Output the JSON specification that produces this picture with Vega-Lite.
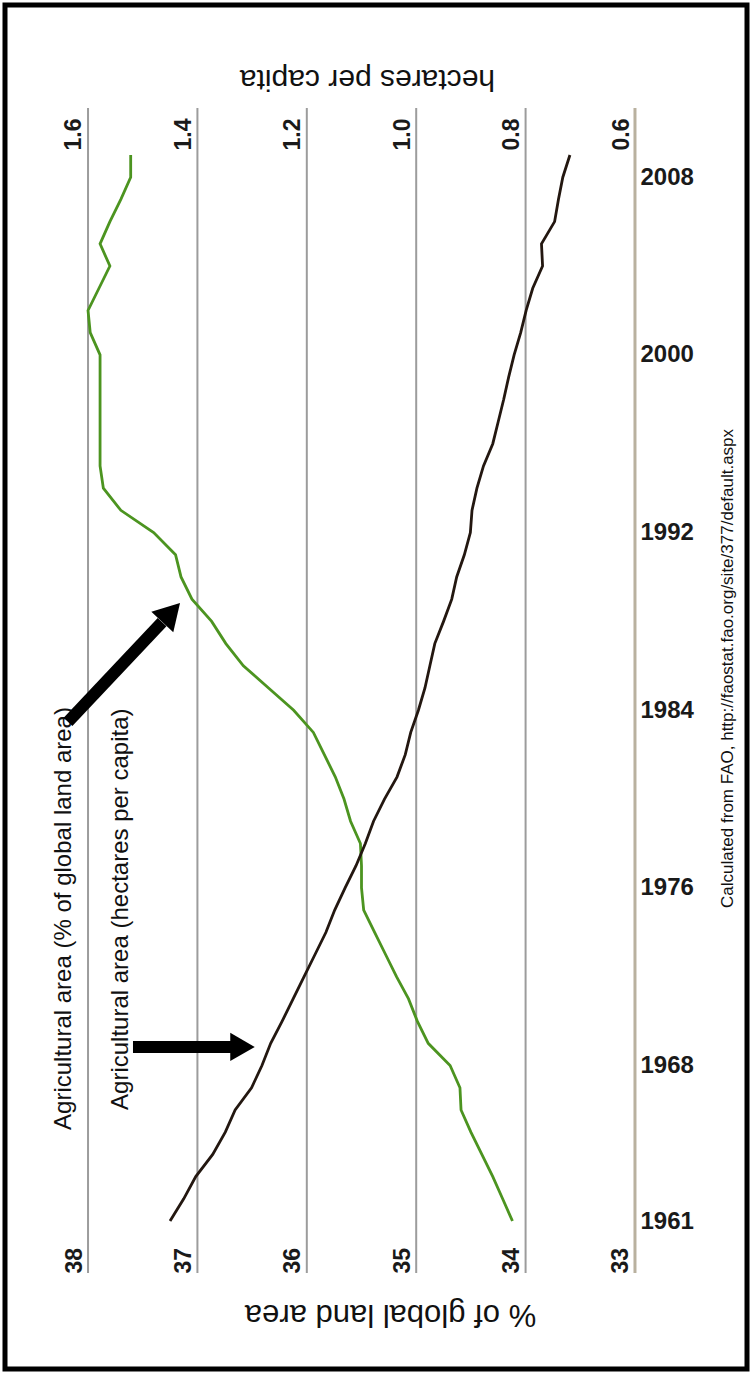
{
  "$schema": "https://vega.github.io/schema/vega-lite/v6.json",
  "width": 742,
  "height": 1364,
  "autosize": {"type": "none"},
  "padding": 5,
  "background": "white",
  "config": {
    "view": {"stroke": "black", "strokeWidth": 5},
    "font": "Liberation Sans"
  },
  "datasets": {
    "series": [
      {"year": 1961, "pct": 34.12, "ha": 1.450},
      {"year": 1962, "pct": 34.21, "ha": 1.425},
      {"year": 1963, "pct": 34.30, "ha": 1.403},
      {"year": 1964, "pct": 34.40, "ha": 1.372},
      {"year": 1965, "pct": 34.50, "ha": 1.349},
      {"year": 1966, "pct": 34.59, "ha": 1.331},
      {"year": 1967, "pct": 34.60, "ha": 1.301},
      {"year": 1968, "pct": 34.69, "ha": 1.282},
      {"year": 1969, "pct": 34.89, "ha": 1.266},
      {"year": 1970, "pct": 34.99, "ha": 1.245},
      {"year": 1971, "pct": 35.07, "ha": 1.225},
      {"year": 1972, "pct": 35.18, "ha": 1.205},
      {"year": 1973, "pct": 35.28, "ha": 1.185},
      {"year": 1974, "pct": 35.38, "ha": 1.165},
      {"year": 1975, "pct": 35.48, "ha": 1.149},
      {"year": 1976, "pct": 35.50, "ha": 1.130},
      {"year": 1977, "pct": 35.50, "ha": 1.110},
      {"year": 1978, "pct": 35.51, "ha": 1.093},
      {"year": 1979, "pct": 35.60, "ha": 1.078},
      {"year": 1980, "pct": 35.66, "ha": 1.058},
      {"year": 1981, "pct": 35.74, "ha": 1.035},
      {"year": 1982, "pct": 35.84, "ha": 1.020},
      {"year": 1983, "pct": 35.94, "ha": 1.010},
      {"year": 1984, "pct": 36.12, "ha": 0.996},
      {"year": 1985, "pct": 36.35, "ha": 0.984},
      {"year": 1986, "pct": 36.58, "ha": 0.975},
      {"year": 1987, "pct": 36.74, "ha": 0.966},
      {"year": 1988, "pct": 36.87, "ha": 0.950},
      {"year": 1989, "pct": 37.05, "ha": 0.935},
      {"year": 1990, "pct": 37.15, "ha": 0.926},
      {"year": 1991, "pct": 37.20, "ha": 0.912},
      {"year": 1992, "pct": 37.40, "ha": 0.901},
      {"year": 1993, "pct": 37.70, "ha": 0.898},
      {"year": 1994, "pct": 37.86, "ha": 0.889},
      {"year": 1995, "pct": 37.89, "ha": 0.877},
      {"year": 1996, "pct": 37.89, "ha": 0.860},
      {"year": 1997, "pct": 37.89, "ha": 0.850},
      {"year": 1998, "pct": 37.89, "ha": 0.840},
      {"year": 1999, "pct": 37.89, "ha": 0.831},
      {"year": 2000, "pct": 37.89, "ha": 0.821},
      {"year": 2001, "pct": 37.98, "ha": 0.809},
      {"year": 2002, "pct": 38.00, "ha": 0.799},
      {"year": 2003, "pct": 37.90, "ha": 0.787},
      {"year": 2004, "pct": 37.80, "ha": 0.769},
      {"year": 2005, "pct": 37.89, "ha": 0.771},
      {"year": 2006, "pct": 37.80, "ha": 0.747},
      {"year": 2007, "pct": 37.70, "ha": 0.740},
      {"year": 2008, "pct": 37.61, "ha": 0.732},
      {"year": 2009, "pct": 37.61, "ha": 0.719}
    ],
    "grid": [
      {"pct": 38}, {"pct": 37}, {"pct": 36}, {"pct": 35}, {"pct": 34}, {"pct": 33}
    ],
    "notes": [
      {"label": "Agricultural area (% of global land area)", "pct": 38.22, "year": 1965.1},
      {"label": "Agricultural area (hectares per capita)", "pct": 37.70, "year": 1966.0}
    ],
    "arrows": [
      {"name": "a1", "x1": 38.183, "y1": 1983.47, "x2": 37.323, "y2": 1987.97, "hx": 37.240, "hy": 1988.40},
      {"name": "a2", "x1": 37.589, "y1": 1968.84, "x2": 36.684, "y2": 1968.84, "hx": 36.588, "hy": 1968.84}
    ]
  },
  "layer": [
    {
      "data": {"name": "grid"},
      "mark": {"type": "rule"},
      "encoding": {
        "x": {
          "field": "pct", "type": "quantitative",
          "scale": {"domain": [31.976, 38.759], "reverse": true, "nice": false, "zero": false},
          "axis": {
            "orient": "bottom",
            "values": [33, 34, 35, 36, 37, 38],
            "format": "d",
            "domain": false, "ticks": false, "grid": false,
            "labelAngle": 270, "labelAlign": "left", "labelBaseline": "alphabetic",
            "labelPadding": -96, "labelOffset": -7,
            "labelFontSize": 23, "labelFontWeight": "bold", "labelColor": "#1a1a1a",
            "labelFlush": false, "labelOverlap": false, "labelBound": false,
            "title": "% of global land area",
            "titleAngle": 180, "titleX": 385, "titleY": -56,
            "titleAlign": "center", "titleBaseline": "middle",
            "titleFontSize": 31, "titleFontWeight": "normal", "titleColor": "#111"
          }
        },
        "y": {
          "datum": 1958.66, "type": "quantitative",
          "scale": {"domain": [1954.336, 2015.754], "nice": false, "zero": false}
        },
        "y2": {"datum": 2011.116},
        "color": {"condition": {"test": "datum.pct == 33", "value": "#b9b19f"}, "value": "#9c9c9c"},
        "strokeWidth": {"condition": {"test": "datum.pct == 33", "value": 3}, "value": 2}
      }
    },
    {
      "data": {"name": "series"},
      "mark": {"type": "line", "color": "#4c9420", "strokeWidth": 2.8},
      "encoding": {
        "x": {
          "field": "pct", "type": "quantitative",
          "scale": {"domain": [31.976, 38.759], "reverse": true, "nice": false, "zero": false},
          "axis": null
        },
        "y": {
          "field": "year", "type": "quantitative",
          "scale": {"domain": [1954.336, 2015.754], "nice": false, "zero": false},
          "axis": {
            "orient": "left",
            "values": [1961, 1968, 1976, 1984, 1992, 2000, 2008],
            "format": "d",
            "domain": false, "ticks": false, "grid": false,
            "labelAlign": "left", "labelBaseline": "middle",
            "labelPadding": -635,
            "labelFontSize": 24, "labelFontWeight": "bold", "labelColor": "#1a1a1a",
            "labelFlush": false, "labelOverlap": false, "labelBound": false,
            "title": "Calculated from FAO, http://faostat.fao.org/site/377/default.aspx",
            "titleAngle": 270, "titleX": 722, "titleY": 663,
            "titleAlign": "center", "titleBaseline": "middle",
            "titleFontSize": 17, "titleFontWeight": "normal", "titleColor": "#111"
          }
        },
        "order": {"field": "year", "type": "quantitative"}
      }
    },
    {
      "data": {"name": "series"},
      "mark": {"type": "line", "color": "#231710", "strokeWidth": 2.8},
      "encoding": {
        "x": {
          "field": "ha", "type": "quantitative",
          "scale": {"domain": [0.3953, 1.7517], "reverse": true, "nice": false, "zero": false},
          "axis": {
            "orient": "top",
            "values": [0.6, 0.8, 1.0, 1.2, 1.4, 1.6],
            "format": ".1f",
            "domain": false, "ticks": false, "grid": false,
            "labelAngle": 270, "labelAlign": "left", "labelBaseline": "alphabetic",
            "labelPadding": -145, "labelOffset": -7,
            "labelFontSize": 23, "labelFontWeight": "bold", "labelColor": "#1a1a1a",
            "labelFlush": false, "labelOverlap": false, "labelBound": false,
            "title": "hectares per capita",
            "titleAngle": 180, "titleX": 362, "titleY": 73,
            "titleAlign": "center", "titleBaseline": "middle",
            "titleFontSize": 30, "titleFontWeight": "normal", "titleColor": "#111"
          }
        },
        "y": {
          "field": "year", "type": "quantitative",
          "scale": {"domain": [1954.336, 2015.754], "nice": false, "zero": false}
        },
        "order": {"field": "year", "type": "quantitative"}
      }
    },
    {
      "data": {"name": "notes"},
      "mark": {"type": "text", "angle": 270, "align": "left", "baseline": "middle", "fontSize": 24, "color": "#111"},
      "encoding": {
        "x": {
          "field": "pct", "type": "quantitative",
          "scale": {"domain": [31.976, 38.759], "reverse": true, "nice": false, "zero": false},
          "axis": null
        },
        "y": {
          "field": "year", "type": "quantitative",
          "scale": {"domain": [1954.336, 2015.754], "nice": false, "zero": false}
        },
        "text": {"field": "label"}
      }
    },
    {
      "data": {"name": "arrows"},
      "mark": {"type": "rule", "color": "black", "strokeWidth": 12, "strokeCap": "butt"},
      "encoding": {
        "x": {
          "field": "x1", "type": "quantitative",
          "scale": {"domain": [31.976, 38.759], "reverse": true, "nice": false, "zero": false},
          "axis": null
        },
        "y": {
          "field": "y1", "type": "quantitative",
          "scale": {"domain": [1954.336, 2015.754], "nice": false, "zero": false}
        },
        "x2": {"field": "x2"},
        "y2": {"field": "y2"}
      }
    },
    {
      "data": {"name": "arrows"},
      "transform": [{"filter": "datum.name == 'a1'"}],
      "mark": {"type": "point", "shape": "triangle-up", "filled": true, "color": "black", "opacity": 1, "size": 900, "angle": 43},
      "encoding": {
        "x": {
          "field": "hx", "type": "quantitative",
          "scale": {"domain": [31.976, 38.759], "reverse": true, "nice": false, "zero": false},
          "axis": null
        },
        "y": {
          "field": "hy", "type": "quantitative",
          "scale": {"domain": [1954.336, 2015.754], "nice": false, "zero": false}
        }
      }
    },
    {
      "data": {"name": "arrows"},
      "transform": [{"filter": "datum.name == 'a2'"}],
      "mark": {"type": "point", "shape": "triangle-right", "filled": true, "color": "black", "opacity": 1, "size": 800},
      "encoding": {
        "x": {
          "field": "hx", "type": "quantitative",
          "scale": {"domain": [31.976, 38.759], "reverse": true, "nice": false, "zero": false},
          "axis": null
        },
        "y": {
          "field": "hy", "type": "quantitative",
          "scale": {"domain": [1954.336, 2015.754], "nice": false, "zero": false}
        }
      }
    }
  ],
  "resolve": {"scale": {"x": "independent"}, "axis": {"x": "independent"}}
}
